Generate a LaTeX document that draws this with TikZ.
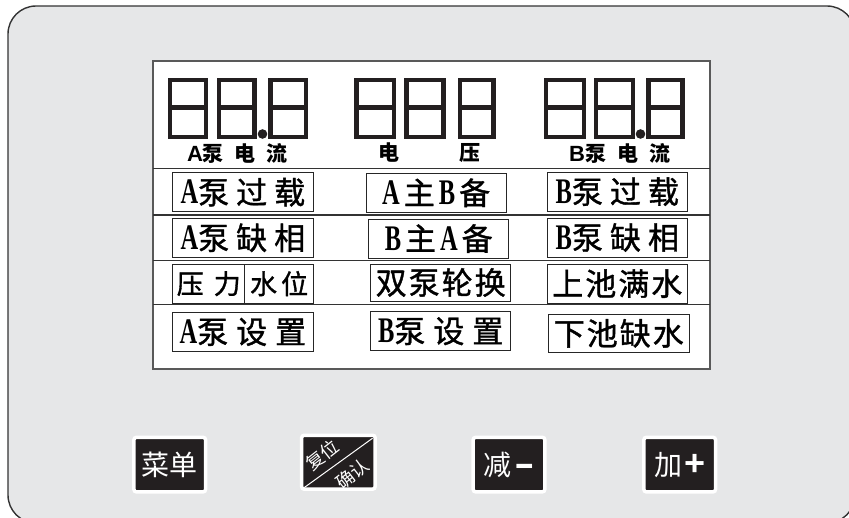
\documentclass[tikz,border=0pt]{standalone}
\usepackage{fontspec}
\usepackage{graphicx}
\usetikzlibrary{calc}
\setmainfont{Liberation Serif}
\newfontfamily\cjk{Noto Sans CJK SC}
\newfontfamily\cjkb[FakeBold=1.2]{Noto Sans CJK SC}
\newfontfamily\lsans{Liberation Sans}
\definecolor{panel}{HTML}{E6E7E8}
\definecolor{ink}{HTML}{231F20}
\newcommand\gp{\hspace{7pt}}
\newcommand\LA[1]{{\rmfamily\bfseries\fontsize{36}{36}\selectfont\scalebox{0.68}[1]{#1}}}
\newcommand\segdigit[2]{%
  \draw[seg] (#1+2.25,79.9) rectangle (#2-2.25,107.7);
  \draw[seg] (#1+2.25,107.7) rectangle (#2-2.25,137);
}
\begin{document}
\begin{tikzpicture}[x=1pt,y=-1pt,
  seg/.style={draw=ink,line width=4.5pt,line join=miter},
  lbl/.style={draw=black!85,line width=0.9pt,fill=white,inner sep=0pt,minimum height=39pt,
    font=\cjkb\fontsize{31}{31}\selectfont},
  digcap/.style={inner sep=0pt,font=\cjk\bfseries\fontsize{21}{21}\selectfont},
  key/.style={fill=ink,draw=white,line width=3.5pt,rounded corners=2.5pt,
    minimum width=71.7pt,minimum height=54.5pt,inner sep=0pt,text=white,
    font=\cjk\fontsize{28}{28}\selectfont},
  keysmall/.style={inner sep=0pt,text=white,rotate=38,font=\cjk\fontsize{18}{18}\selectfont},
  divider/.style={draw=black!80,line width=1.2pt},
]
\useasboundingbox (0,0) rectangle (849,517);
\fill[white] (0,0) rectangle (849,517);
\begin{scope}
  \clip (0,0) rectangle (849,517);
  \draw[fill=panel,draw=black!80,line width=1.4pt,rounded corners=28pt] (8,6) rectangle (855,523);
\end{scope}

% LCD window
\draw[fill=white,draw=black!65,line width=1.6pt] (153,61) rectangle (710,369);
\draw[divider] (153,168.5) -- (710,168.5);
\draw[divider] (153,215) -- (710,215);
\draw[divider] (153,260.7) -- (710,260.7);
\draw[divider] (153,304.5) -- (710,304.5);

% seven segment digits
\segdigit{167.7}{208.3}
\segdigit{216.7}{256.7}
\segdigit{268.3}{308.3}
\fill[ink] (262.5,134) circle (4.8);
\segdigit{354.3}{396.4}
\segdigit{404.3}{445.7}
\segdigit{457.9}{495.7}
\segdigit{543.9}{586.4}
\segdigit{593.6}{635}
\segdigit{646.4}{684.6}
\fill[ink] (640.5,134) circle (4.8);

% captions
\node[digcap] (capa) at (237.5,153) {{\lsans\bfseries\fontsize{22}{22}\selectfont A}泵\hspace{11pt}电\hspace{11pt}流};
\node[digcap] (capv) at (429.5,153) {电\hspace{60pt}压};
\node[digcap] (capb) at (619.6,153) {{\lsans\bfseries\fontsize{22}{22}\selectfont B}泵\hspace{11pt}电\hspace{11pt}流};

% indicator labels
\node[lbl,minimum width=141.5pt] (aover) at (242.85,192.2) {\LA{A}泵\gp 过\gp 载};
\node[lbl,minimum width=140.4pt] (amb) at (436.2,192.8) {\LA{A}\hspace{4pt}主\hspace{4pt}\LA{B}\hspace{4pt}备};
\node[lbl,minimum width=140.4pt,minimum height=38.7pt] (bover) at (617.3,191.65) {\LA{B}泵\gp 过\gp 载};

\node[lbl,minimum width=141.5pt] (aphase) at (242.85,237.8) {\LA{A}泵\gp 缺\gp 相};
\node[lbl,minimum width=140.3pt] (bma) at (438.75,238.5) {\LA{B}\hspace{4pt}主\hspace{4pt}\LA{A}\hspace{4pt}备};
\node[lbl,minimum width=140.4pt] (bphase) at (617.3,237.5) {\LA{B}泵\gp 缺\gp 相};

\node[lbl,minimum width=71.7pt,minimum height=39.3pt,font=\cjkb\fontsize{27}{27}\selectfont] (press) at (208.75,283.65) {压\hspace{10pt}力};
\node[lbl,minimum width=69pt,minimum height=39.3pt,font=\cjkb\fontsize{27}{27}\selectfont] (level) at (279.1,283.65) {水\hspace{4pt}位};
\node[lbl,minimum width=140pt,minimum height=37pt] (swap) at (440.7,282.5) {双\hspace{2pt}泵\hspace{2pt}轮\hspace{2pt}换};
\node[lbl,minimum width=140.4pt,minimum height=39.3pt] (upfull) at (617.3,283.65) {上\hspace{2pt}池\hspace{2pt}满\hspace{2pt}水};

\node[lbl,minimum width=141.5pt,minimum height=39.4pt] (aset) at (242.85,332) {\LA{A}泵\hspace{8pt}设\hspace{8pt}置};
\node[lbl,minimum width=140pt] (bset) at (440.7,331.2) {\LA{B}泵\hspace{8pt}设\hspace{8pt}置};
\node[lbl,minimum width=141.1pt,minimum height=38.7pt] (lowlack) at (618.75,333.35) {下\hspace{2pt}池\hspace{2pt}缺\hspace{2pt}水};

% keys
\node[key] (menu) at (169.75,464.6) {菜单};
\node[key,minimum width=73.5pt,minimum height=53.9pt] (reset) at (338.4,462.2) {};
\draw[white,line width=1pt] ($(reset.south west)+(4.3,-3.3)$) -- ($(reset.north east)+(-4.3,4.7)$);
\node[keysmall] (resettxt) at (322,455) {复位};
\node[keysmall] (confirmtxt) at (352,474) {确认};
\node[key] (minus) at (509,464.6) {减\hspace{3pt}{\lsans\bfseries\scalebox{2.2}[1.25]{-}}};
\node[key] (plus) at (679.7,464.6) {加\hspace{2pt}{\lsans\bfseries\fontsize{36}{36}\selectfont +}};
\end{tikzpicture}
\end{document}
